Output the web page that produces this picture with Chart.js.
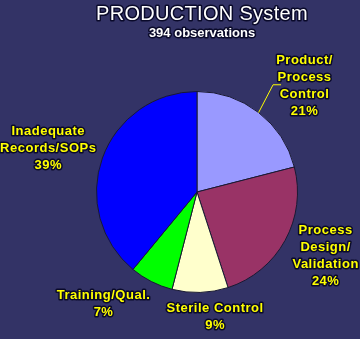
<!DOCTYPE html>
<html>
<head>
<meta charset="utf-8">
<script src="https://cdn.jsdelivr.net/npm/chart.js@4"></script>
<style>
    html, body { margin: 0; padding: 0; background: #333366; }
    #chart-wrap { width: 360px; height: 339px; }
</style>
</head>
<body>
<div id="chart-wrap"><canvas id="chart"></canvas></div>
<script>
// chart data
const title = 'PRODUCTION System';
const subtitle = '394 observations';
const categories = [
    ['Product/', 'Process', 'Control'],
    ['Process', 'Design/', 'Validation'],
    ['Sterile Control'],
    ['Training/Qual.'],
    ['Inadequate', 'Records/SOPs']
];
const percents = [21, 24, 9, 7, 39];
const colors = ['#9999ff', '#993366', '#ffffcc', '#00ff00', '#0000ff'];

// where each label block sits, relative to the pie centre (in radii)
const labelSpots = [
    { x: 1.07, y: -1.06 },
    { x: 1.28, y: 0.64 },
    { x: 0.18, y: 1.24 },
    { x: -0.93, y: 1.11 },
    { x: -1.48, y: -0.43 }
];

poll_chart();
function poll_chart() {
    const $chart = document.querySelector('#chart');
    if (!$chart) {
        return;
    }
    const ctx = $chart.getContext('2d');

    function outlined(c, text, x, y, fill) {
        c.lineJoin = 'round';
        c.lineWidth = 3;
        c.strokeStyle = '#0a0a2a';
        c.strokeText(text, x, y);
        c.fillStyle = fill;
        c.fillText(text, x, y);
    }

    const labelPlugin = {
        id: 'pieLabels',
        afterDatasetsDraw(chart) {
            const c = chart.ctx;
            const arcs = chart.getDatasetMeta(0).data;
            c.save();
            c.textAlign = 'center';
            c.textBaseline = 'middle';

            // titles
            const cx = chart.width / 2 + 22;
            c.font = '20px "Liberation Sans", Arial, sans-serif';
            c.letterSpacing = '0.3px';
            outlined(c, title, cx, 14, '#ffffff');
            c.font = 'bold 13px "Liberation Sans", Arial, sans-serif';
            c.letterSpacing = '0px';
            outlined(c, subtitle, cx, 33, '#ffffff');

            c.font = 'bold 13px "Liberation Sans", Arial, sans-serif';
            c.letterSpacing = '0.5px';
            arcs.forEach((arc, i) => {
                const r = arc.outerRadius;
                const spot = labelSpots[i];
                const lx = arc.x + spot.x * r;
                const ly = arc.y + spot.y * r;
                const lines = categories[i].concat([percents[i] + '%']);
                const lh = 17;
                const top = ly - (lines.length - 1) * lh / 2;
                lines.forEach((t, k) => {
                    outlined(c, t, lx, top + k * lh, '#ffff00');
                });

                // leader line for the first slice
                if (i === 0) {
                    const mid = (arc.startAngle + arc.endAngle) / 2;
                    const x0 = arc.x + Math.cos(mid) * r;
                    const y0 = arc.y + Math.sin(mid) * r;
                    const x1 = arc.x + Math.cos(mid) * r * 1.3 - 4;
                    const y1 = arc.y + Math.sin(mid) * r * 1.3 - 4;
                    c.beginPath();
                    c.moveTo(x0, y0);
                    c.lineTo(x1, y1);
                    c.lineTo(x1 + 8, y1);
                    c.strokeStyle = '#ffff00';
                    c.lineWidth = 1;
                    c.stroke();
                }
            });
            c.restore();
        }
    };

    const data = {
        labels: categories.map(l => l.join(' ')),
        datasets: [{
            label: 'Observations',
            data: percents,
            backgroundColor: colors,
            borderColor: '#1a1a33',
            borderWidth: 1
        }]
    };

    new Chart(ctx, {
        type: 'pie',
        data: data,
        options: {
            responsive: true,
            maintainAspectRatio: false,
            animation: false,
            layout: {
                padding: { left: 96, right: 62, top: 91, bottom: 46 }
            },
            plugins: {
                legend: { display: false },
                title: { display: false },
                tooltip: { enabled: false }
            }
        },
        plugins: [labelPlugin]
    });
}
</script>
</body>
</html>
